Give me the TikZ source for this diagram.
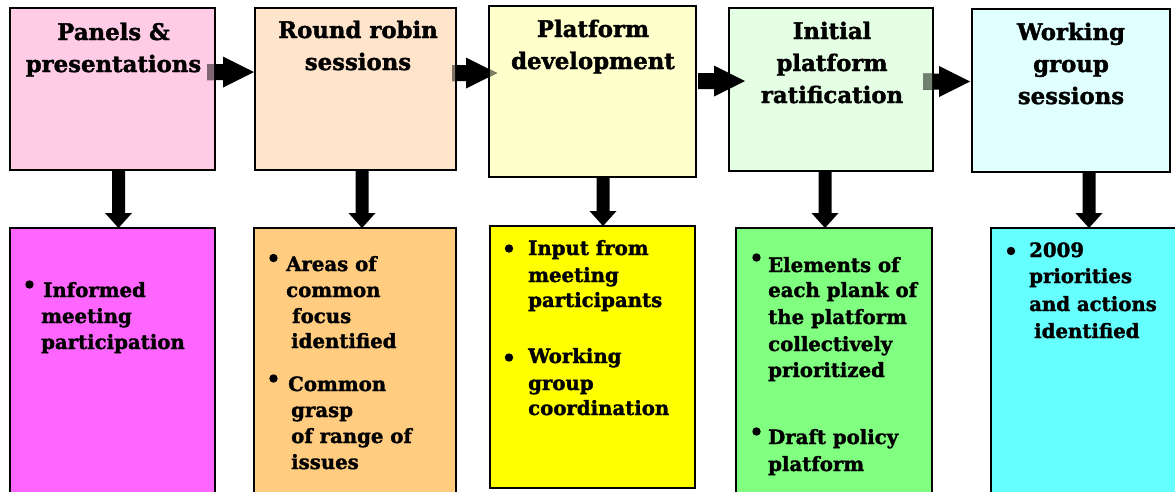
\documentclass[tikz,border=0pt]{standalone}
\usepackage{fontspec}
\setmainfont{DejaVu Serif}[BoldFont={DejaVu Serif Bold}, BoldFeatures={FakeBold=1.6}]
\usetikzlibrary{calc}
\definecolor{top1}{HTML}{FFCCE6}
\definecolor{top2}{HTML}{FFE4CC}
\definecolor{top3}{HTML}{FFFFCC}
\definecolor{top4}{HTML}{E5FFE5}
\definecolor{top5}{HTML}{E0FFFF}
\definecolor{bot1}{HTML}{FF66FF}
\definecolor{bot2}{HTML}{FFCC80}
\definecolor{bot3}{HTML}{FFFF00}
\definecolor{bot4}{HTML}{80FF80}
\definecolor{bot5}{HTML}{66FFFF}
\tikzset{
  tbox/.style={draw=black, line width=2pt, inner sep=0pt, outer sep=0pt},
  ttl/.style={font=\bfseries\fontsize{22.8}{26}\selectfont, inner sep=0pt, anchor=base},
  bdy/.style={font=\bfseries\fontsize{19.7}{23}\selectfont, inner sep=0pt, anchor=base west},
}
% right block arrow: start, tip
\newcommand\RArrow[3][black]{\fill[#1] ($(#2)+(0,-8)$) -- ($(#3)+(-31,-8)$) -- ($(#3)+(-31,-15.5)$) -- (#3) -- ($(#3)+(-31,15.5)$) -- ($(#3)+(-31,8)$) -- ($(#2)+(0,8)$) -- cycle;}
% down block arrow: start, tip
\newcommand\DArrow[2]{\fill[black] ($(#1)+(-6.5,0)$) -- ($(#2)+(-6.5,-15)$) -- ($(#2)+(-13.5,-15)$) -- (#2) -- ($(#2)+(13.5,-15)$) -- ($(#2)+(6.5,-15)$) -- ($(#1)+(6.5,0)$) -- cycle;}
\begin{document}
\begin{tikzpicture}[x=1pt,y=-1pt]
\useasboundingbox (0,0) rectangle (1175,491);
% top boxes
\node[tbox, fill=top1, minimum width=205pt, minimum height=162pt] (T1) at (112.5,89) {};
\node[tbox, fill=top2, minimum width=201pt, minimum height=162pt] (T2) at (355.5,89) {};
\node[tbox, fill=top3, minimum width=207pt, minimum height=171pt] (T3) at (592.5,91.5) {};
\node[tbox, fill=top4, minimum width=204pt, minimum height=163pt] (T4) at (831,89.5) {};
\node[tbox, fill=top5, minimum width=198pt, minimum height=163pt] (T5) at (1071,90.5) {};
% bottom boxes
\node[tbox, fill=bot1, minimum width=205pt, minimum height=272pt] (B1) at (112.5,364) {};
\node[tbox, fill=bot2, minimum width=202pt, minimum height=272pt] (B2) at (355,364) {};
\node[tbox, fill=bot3, minimum width=205pt, minimum height=262pt] (B3) at (592.5,357) {};
\node[tbox, fill=bot4, minimum width=196pt, minimum height=272pt] (B4) at (834,364) {};
\node[tbox, fill=bot5, minimum width=194pt, minimum height=272pt] (B5) at (1088,364) {};
% down arrows
\foreach \k/\x in {1/118.5, 2/362, 3/603, 4/825, 5/1089} {
  \coordinate (d\k) at (\x,0);
  \DArrow{d\k |- T\k.south}{d\k |- B\k.north}
}
% right arrows
\coordinate (r1) at (0,72);
\coordinate (r2) at (0,73);
\coordinate (r3) at (0,81);
\coordinate (r4) at (0,81.5);
\coordinate (r1s) at ($(r1 -| T1.east)+(-8,0)$);
\coordinate (r1e) at ($(r1 -| T2.west)+(-1,0)$);
\coordinate (r2s) at ($(r2 -| T2.east)+(-4,0)$);
\coordinate (r2e) at ($(r2 -| T3.west)+(8,0)$);
\coordinate (r3s) at ($(r3 -| T3.east)+(2,0)$);
\coordinate (r3e) at ($(r3 -| T4.west)+(16,0)$);
\coordinate (r4s) at ($(r4 -| T4.east)+(-10,0)$);
\coordinate (r4e) at ($(r4 -| T5.west)+(-2,0)$);
\RArrow{r1s}{r1e}
\RArrow{r2s}{r2e}
\RArrow{r3s}{r3e}
\RArrow{r4s}{r4e}
\begin{scope}
  \clip ($(T1.north west)+(1,1)$) rectangle ($(T1.south east)+(-1,-1)$);
  \RArrow[top1!50!black]{r1s}{r1e}
\end{scope}
\begin{scope}
  \clip ($(T2.north west)+(1,1)$) rectangle ($(T2.south east)+(-1,-1)$);
  \RArrow[top2!50!black]{r2s}{r2e}
\end{scope}
\begin{scope}
  \clip ($(T3.north west)+(1,1)$) rectangle ($(T3.south east)+(-1,-1)$);
  \RArrow[top3!50!black]{r2s}{r2e}
\end{scope}
\begin{scope}
  \clip ($(T4.north west)+(1,1)$) rectangle ($(T4.south east)+(-1,-1)$);
  \RArrow[top4!50!black]{r4s}{r4e}
\end{scope}
% titles
\foreach \t/\y [count=\i] in {Panels \&/40, presentations/72}
  \node[ttl] (t1l\i) at (113.5,\y) {\t};
\foreach \t/\y [count=\i] in {Round robin/38, sessions/70}
  \node[ttl] (t2l\i) at (358,\y) {\t};
\foreach \t/\y [count=\i] in {Platform/37, development/69}
  \node[ttl] (t3l\i) at (593,\y) {\t};
\foreach \t/\y [count=\i] in {Initial/39, platform/71, ratification/103}
  \node[ttl] (t4l\i) at (832,\y) {\t};
\foreach \t/\y [count=\i] in {Working/40, group/72, sessions/104}
  \node[ttl] (t5l\i) at (1071,\y) {\t};
% bullets
\foreach \x/\y in {29.5/284.5, 273.5/258, 273.5/378.5, 509/248.5, 509/357.5, 756.5/257.5, 756.5/431.5, 1011/251}
  \fill[black] (\x,\y) circle (4.2);
% body texts
\foreach \x/\y/\t [count=\i] in {43/297/Informed, 41/323/meeting, 41/349/participation}
  \node[bdy] (b1l\i) at (\x,\y) {\t};
\foreach \x/\y/\t [count=\i] in {286/271/Areas of, 286/297/common, 292/323/focus, 291/348/identified, 288/391/Common, 291/417/grasp, 291/443/of range of, 291/469/issues}
  \node[bdy] (b2l\i) at (\x,\y) {\t};
\foreach \x/\y/\t [count=\i] in {528/255/Input from, 528/282/meeting, 528/307/participants, 528/363/Working, 528/390/group, 528/415/coordination}
  \node[bdy] (b3l\i) at (\x,\y) {\t};
\foreach \x/\y/\t [count=\i] in {768/272/Elements of, 768/297/each plank of, 768/324/the platform, 768/351/collectively, 768/377/prioritized, 768/444/Draft policy, 768/471/platform}
  \node[bdy] (b4l\i) at (\x,\y) {\t};
\foreach \x/\y/\t [count=\i] in {1029/257/2009, 1029/283/priorities, 1029/311/and actions, 1034/338/identified}
  \node[bdy] (b5l\i) at (\x,\y) {\t};
\end{tikzpicture}
\end{document}
